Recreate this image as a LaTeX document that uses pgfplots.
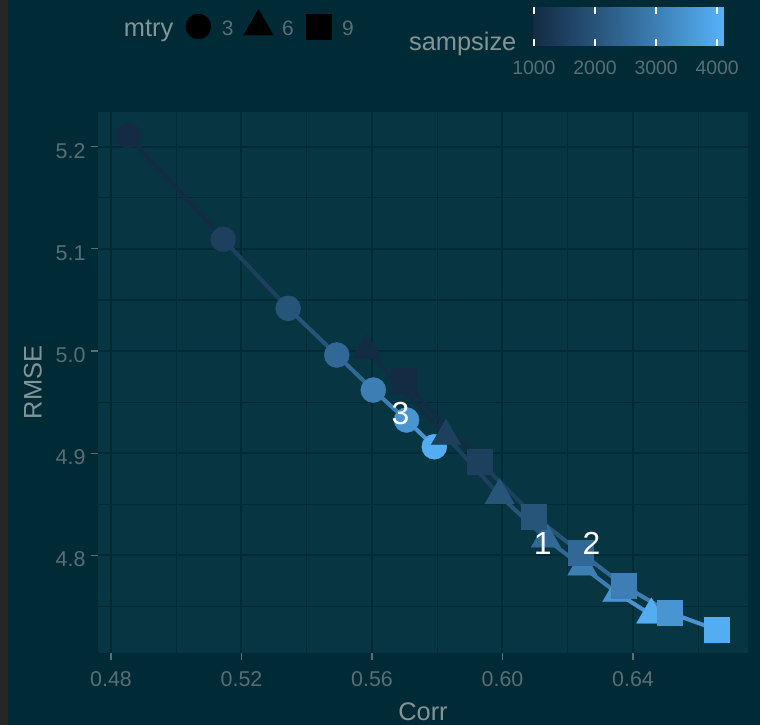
\documentclass[border=0pt]{standalone}
\usepackage{pgfplots}
\pgfplotsset{compat=1.18}
\usepackage{pgfplotstable}
\usepackage{fontspec}
\setmainfont{Liberation Sans}
\definecolor{bgout}{HTML}{002B36}
\definecolor{bgpanel}{HTML}{073642}
\definecolor{txt}{HTML}{586E75}
\definecolor{ttl}{HTML}{839496}
\definecolor{strip}{HTML}{282625}

\pgfplotstableread{
s c r
1000 0.4853 5.2108
1500 0.5144 5.1093
2000 0.5343 5.0418
2500 0.5492 4.9961
3000 0.5604 4.9618
3500 0.5706 4.9325
4000 0.5791 4.9063
}\mtrythree
\pgfplotstableread{
s c r
1000 0.5584 5.0010
1500 0.5827 4.9168
2000 0.5991 4.8587
2500 0.6133 4.8163
3000 0.6245 4.7890
3500 0.6352 4.7629
4000 0.6456 4.7418
}\mtrysix
\pgfplotstableread{
s c r
1000 0.5696 4.9708
1500 0.5931 4.8916
2000 0.6097 4.8383
2500 0.6241 4.8023
3000 0.6373 4.7701
3500 0.6514 4.7437
4000 0.6657 4.7271
}\mtrynine

\pgfplotsset{
  colormap={gg}{rgb255=(19,43,67) rgb255=(34,74,108) rgb255=(51,106,152) rgb255=(68,141,199) rgb255=(86,177,247)},
  lgmark/.style={legend image code/.code={\draw[##1,overlay] plot coordinates {(0bp,0bp)};\pgfpathrectangle{\pgfpoint{-12bp}{-12bp}}{\pgfpoint{24bp}{24bp}}\pgfusepath{discard}}},
}

\begin{document}
\begin{tikzpicture}[x=1bp,y=1bp]
\fill[bgout] (-98bp,-72bp) rectangle (662bp,653bp);
\fill[strip] (-98bp,-72bp) rectangle (-90bp,653bp);
\begin{axis}[
  at={(0bp,0bp)}, anchor=south west,
  scale only axis, width=650bp, height=541bp,
  xmin=0.47602, xmax=0.67525, ymin=4.7044, ymax=5.234,
  axis background/.style={fill=bgpanel},
  axis line style={draw=none},
  xtick={0.48,0.52,0.56,0.60,0.64},
  xticklabels={0.48,0.52,0.56,0.60,0.64},
  ytick={4.8,4.9,5.0,5.1,5.2},
  yticklabels={4.8,4.9,5.0,5.1,5.2},
  minor xtick={0.50,0.54,0.58,0.62,0.66},
  minor ytick={4.75,4.85,4.95,5.05,5.15},
  grid=both,
  major grid style={draw=bgout, line width=2bp},
  minor grid style={draw=bgout, line width=1.1bp},
  xtick pos=lower, ytick pos=left,
  tick align=outside, major tick length=7bp, minor tick length=0bp,
  major tick style={draw=txt, line width=1.2bp},
  minor tick style={draw=none},
  /pgf/number format/assume math mode=true,
  ticklabel style={font=\fontsize{21.5}{21.5}\selectfont, text=txt},
  xticklabel style={yshift=-8bp},
  yticklabel style={xshift=-2bp, yshift=-4bp},
  xlabel={Corr}, ylabel={RMSE},
  every axis x label/.style={at={(rel axis cs:0.5,0)}, anchor=center, yshift=-59bp, font=\fontsize{25.5}{25.5}\selectfont, text=ttl},
  every axis y label/.style={at={(rel axis cs:0,0.5)}, anchor=center, xshift=-65bp, rotate=90, font=\fontsize{25.5}{25.5}\selectfont, text=ttl},
  colormap name=gg,
  point meta min=985, point meta max=4095,
  legend columns=-1,
  legend cell align=left,
  legend style={at={(0.0223,1.158)}, anchor=west, draw=none, fill=none,
    inner sep=0pt, outer sep=0pt,
    nodes={inner sep=0pt, text=txt, font=\fontsize{21}{21}\selectfont, yshift=-2.5bp},
    /tikz/every odd column/.append style={column sep=11.5bp},
    /tikz/every even column/.append style={column sep=13bp}},
]
\addlegendimage{empty legend}
\addlegendentry{\textcolor{ttl}{\fontsize{25.5}{25.5}\selectfont mtry}}
\addlegendimage{only marks, mark=*, mark size=12.5bp, black, fill=black, lgmark}
\addlegendentry{3}
\addlegendimage{only marks, mark=triangle*, mark size=17bp, black, fill=black, lgmark}
\addlegendentry{6}
\addlegendimage{only marks, mark=square*, mark size=12.5bp, black, fill=black, lgmark}
\addlegendentry{9}

\addplot[mesh, shader=flat corner, line width=4bp, line cap=round, point meta=explicit, mark=none, forget plot] table[x=c, y=r, meta=s] {\mtrythree};
\addplot[mesh, shader=flat corner, line width=4bp, line cap=round, point meta=explicit, mark=none, forget plot] table[x=c, y=r, meta=s] {\mtrysix};
\addplot[mesh, shader=flat corner, line width=4bp, line cap=round, point meta=explicit, mark=none, forget plot] table[x=c, y=r, meta=s] {\mtrynine};

\addplot[scatter, only marks, mark=*, mark size=12.5bp, point meta=explicit, scatter/use mapped color={draw=mapped color, fill=mapped color}, forget plot] table[x=c, y=r, meta=s] {\mtrythree};
\addplot[scatter, only marks, mark=triangle*, mark size=17bp, point meta=explicit, scatter/use mapped color={draw=mapped color, fill=mapped color}, forget plot] table[x=c, y=r, meta=s] {\mtrysix};
\addplot[scatter, only marks, mark=square*, mark size=12.5bp, point meta=explicit, scatter/use mapped color={draw=mapped color, fill=mapped color}, forget plot] table[x=c, y=r, meta=s] {\mtrynine};

\coordinate (lthree) at (axis cs:0.5687,4.939);
\coordinate (lone) at (axis cs:0.6123,4.8117);
\coordinate (ltwo) at (axis cs:0.6273,4.8117);
\end{axis}

\begin{axis}[
  at={(435bp,607bp)}, anchor=south west,
  scale only axis, width=190bp, height=39bp,
  xmin=985, xmax=4095, ymin=0, ymax=1,
  axis line style={draw=none},
  axis on top,
  xtick={1000,2000,3000,4000},
  xticklabels={1000,2000,3000,4000},
  ytick=\empty,
  tick align=inside, major tick length=7bp,
  xtick pos=both, xticklabel pos=lower,
  major tick style={draw=white, line width=1.5bp},
  /pgf/number format/assume math mode=true,
  xticklabel style={font=\fontsize{19.5}{19.5}\selectfont, text=txt, yshift=-11bp},
  colormap name=gg,
  point meta min=985, point meta max=4095,
]
\addplot[patch, patch type=rectangle, shader=interp, point meta=x] coordinates {(985,0) (4095,0) (4095,1) (985,1)};
\end{axis}

\node[text=white, font=\fontsize{32}{32}\selectfont, inner sep=0pt] at (lthree) {3};
\node[text=white, font=\fontsize{32}{32}\selectfont, inner sep=0pt] at (lone) {1};
\node[text=white, font=\fontsize{32}{32}\selectfont, inner sep=0pt] at (ltwo) {2};
\node[anchor=base, text=ttl, font=\fontsize{25.5}{25.5}\selectfont, inner sep=0pt] at (364.7bp,602.3bp) {sampsize};
\pgfresetboundingbox
\path[use as bounding box] (-98bp,-72bp) rectangle (662bp,653bp);
\end{tikzpicture}
\end{document}
